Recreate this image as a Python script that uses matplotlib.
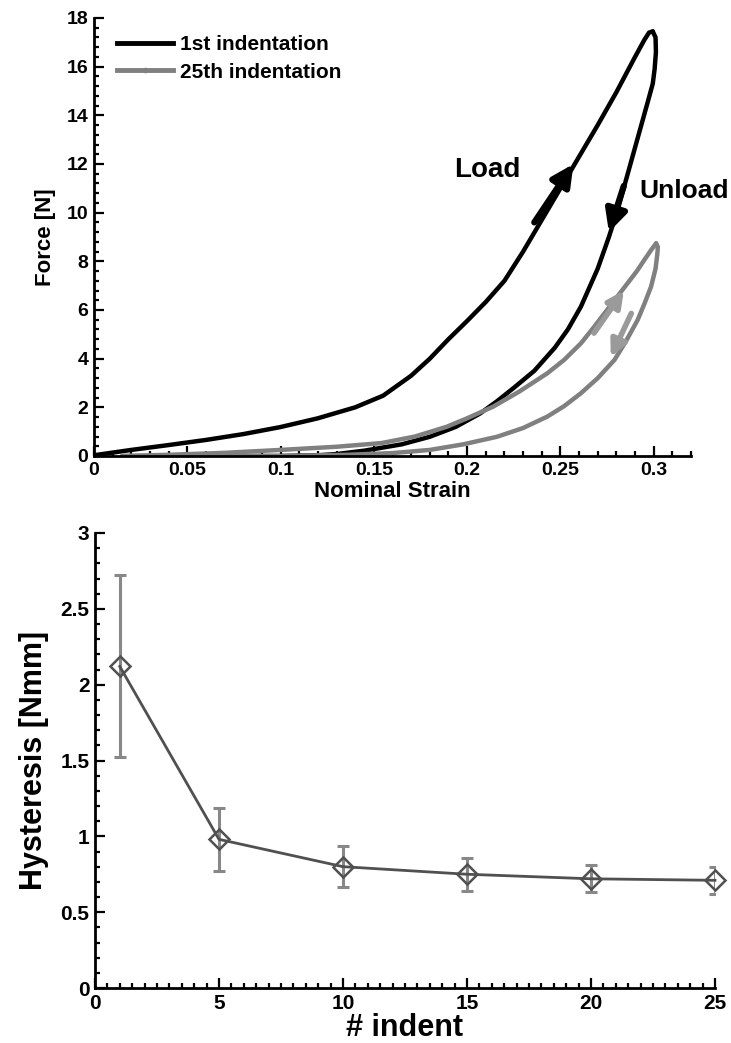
import matplotlib.pyplot as plt
from matplotlib.lines import Line2D
from matplotlib.ticker import MultipleLocator

plt.rcParams['font.family'] = ['Liberation Sans', 'DejaVu Sans']
plt.rcParams['font.weight'] = 'bold'

# top panel: force vs nominal strain
strain_load_1 = [0, 0.02, 0.04, 0.06, 0.08, 0.1, 0.12, 0.14, 0.155, 0.17, 0.18, 0.19, 0.2, 0.21,
                 0.22, 0.23, 0.24, 0.25, 0.26, 0.27, 0.28, 0.29, 0.295, 0.2975, 0.2995]
force_load_1 = [0.03, 0.25, 0.45, 0.66, 0.9, 1.19, 1.55, 2.0, 2.48, 3.3, 4.0, 4.8, 5.55, 6.33,
                7.2, 8.4, 9.7, 11.0, 12.3, 13.6, 14.95, 16.4, 17.1, 17.4, 17.45]
strain_unload_1 = [0.2995, 0.301, 0.3012, 0.3005, 0.2995, 0.297, 0.293, 0.289, 0.285, 0.281, 0.276,
                   0.27, 0.261, 0.254, 0.247, 0.236, 0.225, 0.216, 0.207, 0.194, 0.18, 0.165, 0.145,
                   0.13, 0.12, 0.1, 0.07]
force_unload_1 = [17.45, 17.2, 16.6, 15.9, 15.3, 14.6, 13.5, 12.4, 11.3, 10.2, 9.0,
                  7.7, 6.14, 5.2, 4.45, 3.5, 2.8, 2.25, 1.75, 1.2, 0.79, 0.48, 0.22,
                  0.08, 0.03, 0.0, 0.0]

strain_load_25 = [0.015, 0.04, 0.07, 0.1, 0.13, 0.154, 0.172, 0.189, 0.2, 0.214, 0.228, 0.243, 0.252,
                  0.261, 0.268, 0.275, 0.281, 0.286, 0.291, 0.295, 0.2985, 0.3013]
force_load_25 = [0.0, 0.05, 0.13, 0.25, 0.38, 0.53, 0.8, 1.2, 1.55, 2.03, 2.65, 3.4, 3.95,
                 4.63, 5.3, 6.0, 6.6, 7.1, 7.6, 8.06, 8.45, 8.74]
strain_unload_25 = [0.3013, 0.3022, 0.302, 0.301, 0.2986, 0.295, 0.2914, 0.285, 0.279, 0.27, 0.261,
                    0.252, 0.243, 0.23, 0.216, 0.198, 0.18, 0.16, 0.136, 0.1, 0.05, 0.015]
force_unload_25 = [8.74, 8.6, 8.33, 7.7, 6.96, 6.25, 5.59, 4.7, 3.95, 3.2, 2.58,
                   2.05, 1.62, 1.15, 0.79, 0.48, 0.25, 0.12, 0.05, 0.0, 0.0, 0.0]

# bottom panel: hysteresis vs indent number
indent = [1, 5, 10, 15, 20, 25]
hysteresis = [2.12, 0.98, 0.80, 0.75, 0.72, 0.71]
hyst_err = [0.60, 0.21, 0.135, 0.11, 0.09, 0.09]

fig = plt.figure(figsize=(7.31, 10.43), dpi=100)

def style_axes(ax, size):
    ax.spines['top'].set_visible(False)
    ax.spines['right'].set_visible(False)
    ax.spines['left'].set_linewidth(2)
    ax.spines['bottom'].set_linewidth(2)
    ax.tick_params(which='both', direction='in', width=1.6, pad=4)
    ax.tick_params(which='major', length=7, labelsize=size)
    ax.tick_params(which='minor', length=3.5)
    for lab in ax.get_xticklabels() + ax.get_yticklabels():
        lab.set_fontweight('bold')

ax1 = fig.add_axes([94/731, 1 - 456/1043, 597/731, 438/1043])
ax1.plot(strain_load_1, force_load_1, color='black', lw=3.2, solid_capstyle='round', solid_joinstyle='round')
ax1.plot(strain_unload_1, force_unload_1, color='black', lw=3.2, solid_capstyle='round', solid_joinstyle='round')
ax1.plot(strain_load_25, force_load_25, color='#808080', lw=3.2, solid_capstyle='round', solid_joinstyle='round')
ax1.plot(strain_unload_25, force_unload_25, color='#808080', lw=3.2, solid_capstyle='round', solid_joinstyle='round')

arrow_k = dict(arrowstyle='-|>', color='black', lw=4.5, mutation_scale=32, shrinkA=0, shrinkB=0)
arrow_g = dict(arrowstyle='-|>', color='#9a9a9a', lw=4, mutation_scale=24, shrinkA=0, shrinkB=0)
ax1.annotate('', xy=(0.257, 12.0), xytext=(0.236, 9.6), arrowprops=arrow_k)
ax1.annotate('', xy=(0.276, 9.2), xytext=(0.284, 11.1), arrowprops=arrow_k)
ax1.annotate('', xy=(0.284, 6.8), xytext=(0.268, 5.05), arrowprops=arrow_g)
ax1.annotate('', xy=(0.277, 4.07), xytext=(0.288, 5.86), arrowprops=arrow_g)

ax1.text(0.193, 11.75, 'Load', fontsize=20, fontweight='bold', va='center', ha='left')
ax1.text(0.2925, 10.9, 'Unload', fontsize=19, fontweight='bold', va='center', ha='left', clip_on=False)

ax1.set_xlim(0, 0.32)
ax1.set_ylim(0, 18)
ax1.set_xticks([0, 0.05, 0.1, 0.15, 0.2, 0.25, 0.3])
ax1.set_xticklabels(['0', '0.05', '0.1', '0.15', '0.2', '0.25', '0.3'])
ax1.set_yticks(range(0, 19, 2))
ax1.xaxis.set_minor_locator(MultipleLocator(0.01))
ax1.yaxis.set_minor_locator(MultipleLocator(0.4))
ax1.set_xlabel('Nominal Strain', fontsize=16, fontweight='bold', labelpad=2)
ax1.set_ylabel('Force [N]', fontsize=16, fontweight='bold', labelpad=8)
style_axes(ax1, 14)

handles = [Line2D([], [], color='black', lw=3.5),
           Line2D([], [], color='#808080', lw=3.5, marker='.', markersize=6)]
ax1.legend(handles, ['1st indentation', '25th indentation'], loc='upper left',
           bbox_to_anchor=(0.007, 1.003), frameon=False, handlelength=2.7,
           handletextpad=0.34, labelspacing=0.4, borderpad=0.4,
           prop={'weight': 'bold', 'size': 15})

ax2 = fig.add_axes([95/731, 1 - 988/1043, 620/731, 455/1043])
ax2.errorbar(indent, hysteresis, yerr=hyst_err, fmt='none', ecolor='#888888', elinewidth=2.2,
             capsize=4.5, capthick=2.2)
ax2.plot(indent, hysteresis, color='#505050', lw=2, marker='D', markersize=10, clip_on=False,
         markerfacecolor='none', markeredgecolor='#505050', markeredgewidth=1.8)
ax2.set_xlim(0, 25)
ax2.set_ylim(0, 3)
ax2.set_xticks(range(0, 26, 5))
ax2.set_yticks([0, 0.5, 1, 1.5, 2, 2.5, 3])
ax2.set_yticklabels(['0', '0.5', '1', '1.5', '2', '2.5', '3'])
ax2.xaxis.set_minor_locator(MultipleLocator(0.5))
ax2.yaxis.set_minor_locator(MultipleLocator(0.1))
ax2.set_xlabel('# indent', fontsize=22, fontweight='bold', labelpad=0)
ax2.set_ylabel('Hysteresis [Nmm]', fontsize=22, fontweight='bold', labelpad=8)
style_axes(ax2, 15)

fig.savefig('out.png', dpi=100)
